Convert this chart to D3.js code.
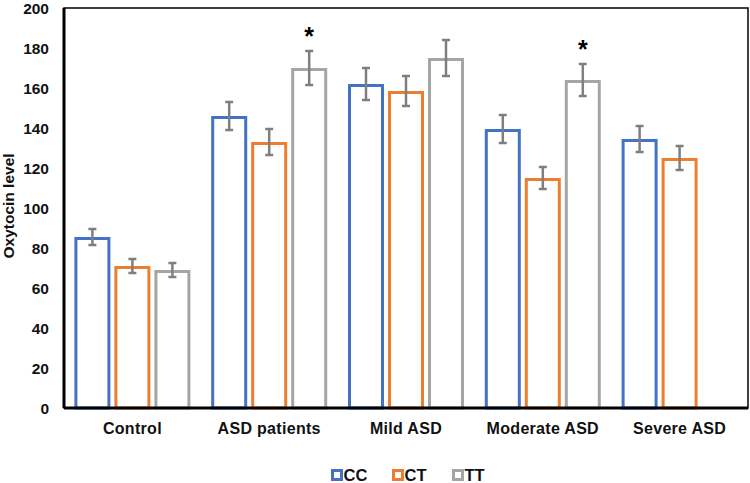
<!DOCTYPE html>
<html><head><meta charset="utf-8">
<script src="https://cdn.jsdelivr.net/npm/d3@7"></script>
<style>body{margin:0;background:#fff}svg{display:block}text{font-family:"Liberation Sans",Arial,sans-serif}</style>
</head><body><svg id="c" width="750" height="483"></svg>
<script>
const categories = ["Control","ASD patients","Mild ASD","Moderate ASD","Severe ASD"];
const seriesNames = ["CC","CT","TT"];
const ccValues = [85.5,146,162,139.5,134.5];
const ctValues = [71,133,158.5,115,125];
const ttValues = [69,170,175,164,null];
const ccErrors = [4,7,8,7,6.5];
const ctErrors = [3.5,6.5,7.5,5.5,6];
const ttErrors = [3.5,8.5,9,8,null];
const starFlags = [[false,false,false],[false,false,true],[false,false,false],[false,false,true],[false,false,false]];
const yTicks = [0,20,40,60,80,100,120,140,160,180,200];
const colors = ["#4472C4","#ED7D31","#A5A5A5"];

const values = [ccValues, ctValues, ttValues];
const errors = [ccErrors, ctErrors, ttErrors];
const svg = d3.select("#c");
const m = {l:64, r:2, t:8, b:75};
const W = 750 - m.l - m.r, H = 483 - m.t - m.b;
const g = svg.append("g").attr("transform",`translate(${m.l},${m.t})`);
const x0 = d3.scaleBand().domain(categories).range([0,W]).paddingInner(0).paddingOuter(0);
const x1 = d3.scaleBand().domain(seriesNames).range([8.4, x0.bandwidth()-8.4]).paddingInner(0.1).paddingOuter(0.05);
const y = d3.scaleLinear().domain([0,200]).range([H,0]);

// frame
g.append("rect").attr("x",0).attr("y",0).attr("width",W).attr("height",H)
 .attr("fill","none").attr("stroke","#000").attr("stroke-width",1.5);

const data = [];
categories.forEach((c,i)=>seriesNames.forEach((s,j)=>{
  if(values[j][i]!=null) data.push({c,s,j,v:values[j][i],e:errors[j][i],star:starFlags[i][j]});
}));
const sw = 3;
g.selectAll("rect.bar").data(data).join("rect").attr("class","bar")
 .attr("x",d=>x0(d.c)+x1(d.s)+sw/2).attr("width",x1.bandwidth()-sw)
 .attr("y",d=>y(d.v)+sw/2).attr("height",d=>H-y(d.v)-sw/2)
 .attr("fill","#fff").attr("stroke",d=>colors[d.j]).attr("stroke-width",sw);

// axes lines
g.append("line").attr("x1",0).attr("x2",W).attr("y1",H).attr("y2",H).attr("stroke","#000").attr("stroke-width",3);
g.append("line").attr("x1",0).attr("x2",0).attr("y1",0).attr("y2",H).attr("stroke","#000").attr("stroke-width",3);

// error bars
const eb = g.selectAll("g.eb").data(data).join("g").attr("class","eb")
 .attr("stroke","#7F7F7F").attr("stroke-width",2.5);
eb.append("line").attr("x1",d=>x0(d.c)+x1(d.s)+x1.bandwidth()/2).attr("x2",d=>x0(d.c)+x1(d.s)+x1.bandwidth()/2)
 .attr("y1",d=>y(d.v+d.e)).attr("y2",d=>y(d.v-d.e));
[1,-1].forEach(sgn=>{
 eb.append("line").attr("x1",d=>x0(d.c)+x1(d.s)+x1.bandwidth()/2-4).attr("x2",d=>x0(d.c)+x1(d.s)+x1.bandwidth()/2+4)
  .attr("y1",d=>y(d.v+sgn*d.e)).attr("y2",d=>y(d.v+sgn*d.e));
});

// stars
g.selectAll("text.star").data(data.filter(d=>d.star)).join("text").attr("class","star")
 .attr("x",d=>x0(d.c)+x1(d.s)+x1.bandwidth()/2).attr("y",d=>y(d.v+d.e)-6)
 .attr("text-anchor","middle").attr("font-size",25).attr("font-weight","bold").attr("fill","#000").text("*");

// y ticks
g.selectAll("text.yt").data(yTicks).join("text").attr("class","yt")
 .attr("x",-15).attr("y",d=>y(d)).attr("dy","0.36em").attr("text-anchor","end")
 .attr("font-size",15.5).attr("font-weight","bold").attr("fill","#111").text(d=>d);

// x labels
g.selectAll("text.xt").data(categories).join("text").attr("class","xt")
 .attr("x",d=>x0(d)+x0.bandwidth()/2).attr("y",H+25.5).attr("text-anchor","middle")
 .attr("font-size",16).attr("font-weight","bold").attr("letter-spacing","0.3px").attr("fill","#111").text(d=>d);

// y title
svg.append("text").attr("transform",`translate(14,206) rotate(-90)`).attr("text-anchor","middle")
 .attr("font-size",15.5).attr("font-weight","bold").attr("fill","#111").text("Oxytocin level");

// legend
const legX = [331,392,452];
const lg = svg.selectAll("g.lg").data(seriesNames).join("g").attr("class","lg")
 .attr("transform",(d,i)=>`translate(${legX[i]},469)`);
lg.append("rect").attr("x",1.5).attr("y",1.5).attr("width",9).attr("height",9).attr("fill","#fff")
 .attr("stroke",(d,i)=>colors[i]).attr("stroke-width",3);
lg.append("text").attr("x",12.5).attr("y",6).attr("dy","0.36em").attr("font-size",16.5).attr("font-weight","bold").attr("fill","#111").text(d=>d);
</script></body></html>
